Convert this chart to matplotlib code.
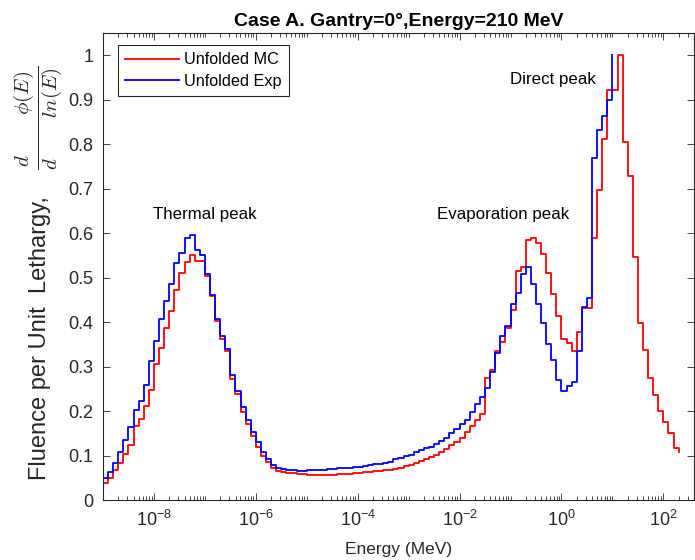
import numpy as np
import matplotlib.pyplot as plt
from matplotlib.ticker import LogLocator, FixedLocator, NullFormatter

plt.rcParams['font.family'] = ['Liberation Sans', 'DejaVu Sans']

# energy grid: 10 log bins per decade starting at 1e-9 MeV
edges = np.logspace(-9, 2.3, 114)

# unfolded spectra (fluence per unit lethargy, normalised)
mc = [0.039, 0.050, 0.067, 0.083, 0.103, 0.124, 0.167, 0.182, 0.211, 0.248,
      0.306, 0.341, 0.387, 0.426, 0.472, 0.510, 0.535, 0.550, 0.538, 0.538,
      0.503, 0.458, 0.403, 0.362, 0.335, 0.273, 0.238, 0.198, 0.172, 0.143,
      0.120, 0.100, 0.085, 0.073, 0.066, 0.062, 0.060, 0.060, 0.059, 0.058,
      0.057, 0.056, 0.056, 0.056, 0.056, 0.057, 0.058, 0.058, 0.059, 0.060,
      0.061, 0.062, 0.063, 0.065, 0.066, 0.067, 0.068, 0.070, 0.073, 0.076,
      0.079, 0.083, 0.087, 0.092, 0.097, 0.102, 0.108, 0.115, 0.123, 0.131,
      0.140, 0.152, 0.166, 0.180, 0.193, 0.274, 0.293, 0.334, 0.355, 0.387,
      0.428, 0.515, 0.524, 0.585, 0.590, 0.578, 0.554, 0.510, 0.464, 0.413,
      0.363, 0.353, 0.335, 0.377, 0.432, 0.432, 0.590, 0.698, 0.811, 0.921,
      0.921, 1.000, 0.806, 0.728, 0.546, 0.398, 0.338, 0.275, 0.237, 0.201,
      0.176, 0.150, 0.118, 0.107]

exp = [0.049, 0.062, 0.083, 0.108, 0.135, 0.165, 0.202, 0.223, 0.259, 0.312,
       0.358, 0.407, 0.448, 0.486, 0.532, 0.556, 0.589, 0.595, 0.563, 0.550,
       0.508, 0.460, 0.407, 0.368, 0.340, 0.280, 0.246, 0.210, 0.180, 0.152,
       0.130, 0.108, 0.092, 0.078, 0.073, 0.069, 0.067, 0.067, 0.066, 0.066,
       0.067, 0.067, 0.068, 0.068, 0.069, 0.070, 0.071, 0.072, 0.073, 0.074,
       0.075, 0.077, 0.078, 0.080, 0.082, 0.084, 0.085, 0.093, 0.094, 0.099,
       0.101, 0.108, 0.112, 0.116, 0.120, 0.127, 0.133, 0.140, 0.150, 0.160,
       0.170, 0.180, 0.198, 0.215, 0.231, 0.252, 0.287, 0.330, 0.368, 0.392,
       0.441, 0.465, 0.509, 0.524, 0.485, 0.440, 0.398, 0.350, 0.314, 0.270,
       0.245, 0.257, 0.265, 0.336, 0.434, 0.454, 0.769, 0.831, 0.863, 0.899,
       1.000]

labels = ['Unfolded MC', 'Unfolded Exp']
peaks = ['Thermal peak', 'Evaporation peak', 'Direct peak']
peak_E = [1e-7, 7e-2, 0.68]
peak_y = [0.643, 0.643, 0.946]

ink = '#262626'

fig = plt.figure(figsize=(6.95, 5.6), dpi=100)
ax = fig.add_axes([0.1482, 0.1071, 0.8504, 0.8339])

ax.step(edges[:len(mc)], mc, where='post', color='#ff0000', lw=1.3, label=labels[0])
ax.step(edges[:len(exp)], exp, where='post', color='#0000ff', lw=1.3, label=labels[1])

ax.set_xscale('log')
ax.set_xlim(1e-9, 400)
ax.set_ylim(0, 1.05)

ax.xaxis.set_major_locator(FixedLocator([1e-8, 1e-6, 1e-4, 1e-2, 1e0, 1e2]))
ax.xaxis.set_minor_locator(LogLocator(base=10, subs=np.arange(1, 10), numticks=30))
ax.xaxis.set_minor_formatter(NullFormatter())
ax.set_yticks(np.arange(0, 1.01, 0.1))
ax.set_yticklabels(['0', '0.1', '0.2', '0.3', '0.4', '0.5', '0.6', '0.7', '0.8', '0.9', '1'])

ax.tick_params(which='both', direction='in', top=True, right=True, colors=ink,
               labelsize=13, width=0.6)
ax.tick_params(which='major', length=5)
ax.tick_params(which='minor', length=3)
ax.tick_params(axis='x', pad=7)
ax.tick_params(axis='y', pad=7)
for s in ax.spines.values():
    s.set_color(ink)
    s.set_linewidth(0.8)

ax.set_xlabel('Energy (MeV)', fontsize=12.5, color=ink, labelpad=9)
ax.set_title('Case A. Gantry=0°,Energy=210 MeV', fontsize=14, fontweight='bold',
             color='black', pad=5)

# y label: plain words plus the lethargy fraction right after them
fig.text(40 / 695, 80 / 560, 'Fluence per Unit  Lethargy,', rotation=90,
         ha='center', va='bottom', fontsize=17, color=ink)
fig.text(38 / 695, 495 / 560, r'$\dfrac{d\qquad\;\phi(E)}{d\qquad\;ln(E)}$', rotation=90,
         ha='center', va='top', fontsize=15, color=ink, math_fontfamily='cm')

for txt, xe, ye in zip(peaks, peak_E, peak_y):
    ax.text(xe, ye, txt, ha='center', va='center', fontsize=12.2, color='black')

leg = ax.legend(loc='upper left', bbox_to_anchor=(0.0254, 0.974), borderaxespad=0,
                fontsize=11.7, handlelength=3.3, fancybox=False, framealpha=1,
                borderpad=0.45, labelspacing=0.4, handletextpad=0.3)
leg.get_frame().set_edgecolor(ink)
leg.get_frame().set_linewidth(0.8)

fig.savefig('out.png', dpi=100)
